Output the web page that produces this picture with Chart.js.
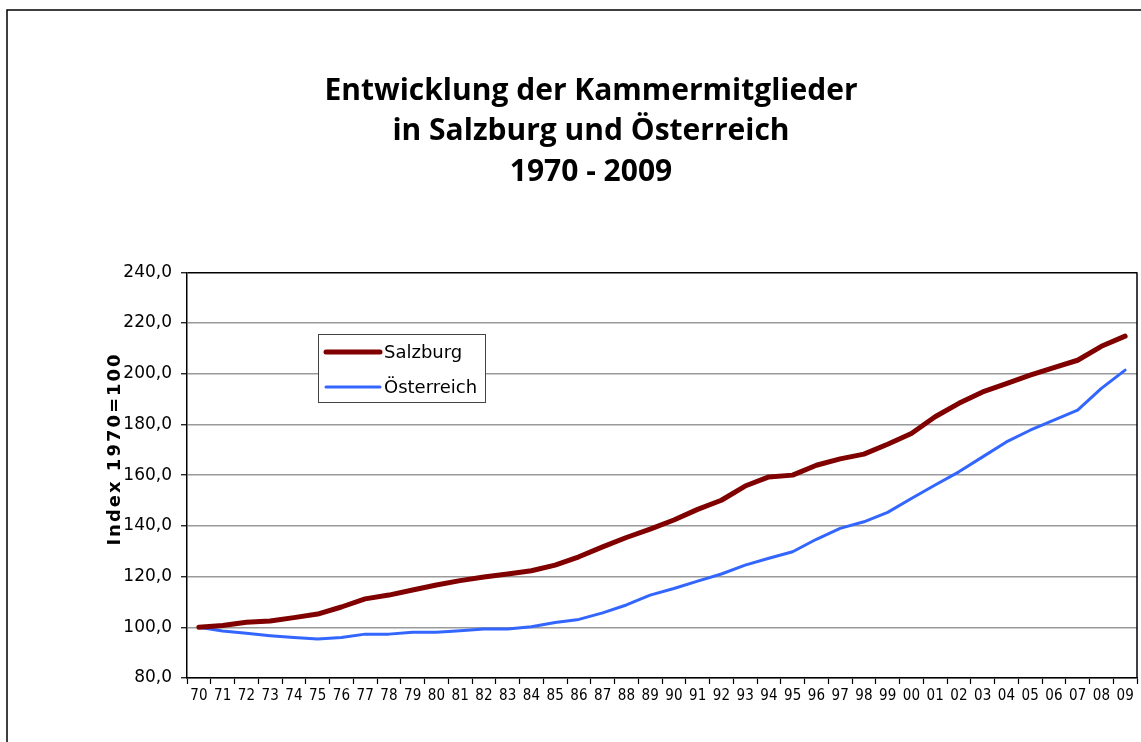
<!DOCTYPE html>
<html>
<head>
<meta charset="utf-8">
<script src="https://cdn.jsdelivr.net/npm/chart.js@4.4.1/dist/chart.umd.min.js"></script>
<style>
  html, body { margin: 0; padding: 0; background: #fff; }
  #wrap { position: relative; width: 1141px; height: 742px; }
  canvas { display: block; }
</style>
</head>
<body>
<div id="wrap"><canvas id="c" width="1141" height="742"></canvas></div>
<script>
const categories = ['70','71','72','73','74','75','76','77','78','79',
                    '80','81','82','83','84','85','86','87','88','89',
                    '90','91','92','93','94','95','96','97','98','99',
                    '00','01','02','03','04','05','06','07','08','09'];
const salzburg = [100.0,100.7,102.0,102.5,103.8,105.2,108.0,111.2,112.7,114.7,
                  116.7,118.4,119.8,121.0,122.3,124.5,127.8,131.7,135.4,138.7,
                  142.3,146.5,150.1,155.7,159.3,160.0,163.9,166.4,168.3,172.2,
                  176.4,183.0,188.3,192.8,196.1,199.4,202.4,205.3,210.8,214.8];
const oesterreich = [100.0,98.5,97.6,96.7,96.0,95.4,96.0,97.3,97.3,98.0,
                     98.0,98.6,99.3,99.3,100.2,101.9,103.1,105.7,108.8,112.7,
                     115.3,118.2,121.0,124.5,127.2,129.8,134.7,139.0,141.6,145.3,
                     150.8,156.1,161.3,167.2,173.1,177.7,181.7,185.6,194.2,201.4];
const seriesNames = ['Salzburg', 'Österreich'];
const titleLines = ['Entwicklung der Kammermitglieder', 'in Salzburg und Österreich', '1970 - 2009'];
const yAxisTitle = 'Index 1970=100';

const framePlugin = {
  id: 'frame',
  beforeDraw(chart) {
    const ctx = chart.ctx;
    ctx.save();
    ctx.fillStyle = '#fff';
    ctx.fillRect(0, 0, chart.width, chart.height);
    ctx.strokeStyle = '#000';
    ctx.lineWidth = 1.5;
    ctx.strokeRect(7, 10, 1300, 900);
    ctx.restore();
  },
  afterDraw(chart) {
    const ctx = chart.ctx;
    const a = chart.chartArea;
    ctx.save();
    ctx.strokeStyle = '#000';
    ctx.lineWidth = 1.5;
    ctx.beginPath();
    ctx.moveTo(a.right, a.top);
    ctx.lineTo(a.right, a.bottom);
    ctx.stroke();
    ctx.translate(115, 449);
    ctx.rotate(-Math.PI / 2);
    ctx.fillStyle = '#000';
    ctx.font = 'bold 18px "DejaVu Sans"';
    if ('letterSpacing' in ctx) ctx.letterSpacing = '2px';
    ctx.textAlign = 'center';
    ctx.textBaseline = 'middle';
    ctx.fillText(yAxisTitle, 0, 0);
    ctx.restore();

    ctx.save();
    const bx = 318, by = 334, bw = 167, bh = 68;
    ctx.fillStyle = '#fff';
    ctx.fillRect(bx, by, bw, bh);
    ctx.strokeStyle = '#444';
    ctx.lineWidth = 1;
    ctx.strokeRect(bx + 0.5, by + 0.5, bw, bh);
    const rows = [352, 387];
    chart.data.datasets.forEach((ds, i) => {
      ctx.strokeStyle = ds.borderColor;
      ctx.lineWidth = ds.borderWidth;
      ctx.lineCap = 'round';
      ctx.beginPath();
      ctx.moveTo(326, rows[i]);
      ctx.lineTo(380, rows[i]);
      ctx.stroke();
      ctx.fillStyle = '#000';
      ctx.font = '18px "DejaVu Sans"';
      ctx.textAlign = 'left';
      ctx.textBaseline = 'middle';
      ctx.fillText(ds.label, 384, rows[i] + 1);
    });
    ctx.restore();
  }
};

new Chart(document.getElementById('c'), {
  type: 'line',
  data: {
    labels: categories,
    datasets: [
      { label: seriesNames[0], data: salzburg, borderColor: '#800000', borderWidth: 5,
        pointRadius: 0, tension: 0, fill: false, borderCapStyle: 'round', borderJoinStyle: 'round' },
      { label: seriesNames[1], data: oesterreich, borderColor: '#3366FF', borderWidth: 3,
        pointRadius: 0, tension: 0, fill: false, borderCapStyle: 'round', borderJoinStyle: 'round' }
    ]
  },
  options: {
    responsive: false,
    animation: false,
    devicePixelRatio: 1,
    layout: { padding: { left: 45, right: 4, top: 0, bottom: 0 } },
    plugins: {
      legend: { display: false },
      tooltip: { enabled: false },
      title: {
        display: true,
        text: titleLines,
        color: '#000',
        font: { family: '"Open Sans"', size: 30, weight: 'bold', lineHeight: 1.35 },
        padding: { top: 70.75, bottom: 80 }
      }
    },
    scales: {
      x: {
        offset: true,
        grid: { offset: true, drawOnChartArea: false, drawTicks: true, tickLength: 6, tickColor: '#000', tickWidth: 1.2 },
        border: { color: '#000', width: 1.5 },
        ticks: { autoSkip: false, maxRotation: 0, minRotation: 0, color: '#000', padding: 3,
                 font: { family: '"DejaVu Sans Condensed", "Liberation Sans"', size: 15 } },
        afterFit(scale) { scale.height = 64; }
      },
      y: {
        min: 80, max: 240,
        ticks: { stepSize: 20, color: '#000', padding: 9,
                 font: { family: '"DejaVu Sans"', size: 17 },
                 callback: (v) => Number(v).toFixed(1).replace('.', ',') },
        grid: { color: (c) => (c.tick && c.tick.value === 240 ? '#000' : '#9a9a9a'),
                lineWidth: 1.5, tickLength: 6, tickColor: '#000', tickWidth: 1.2 },
        border: { color: '#000', width: 1.5 },
        afterFit(scale) { scale.width = 142; }
      }
    }
  },
  plugins: [framePlugin]
});
</script>
</body>
</html>
